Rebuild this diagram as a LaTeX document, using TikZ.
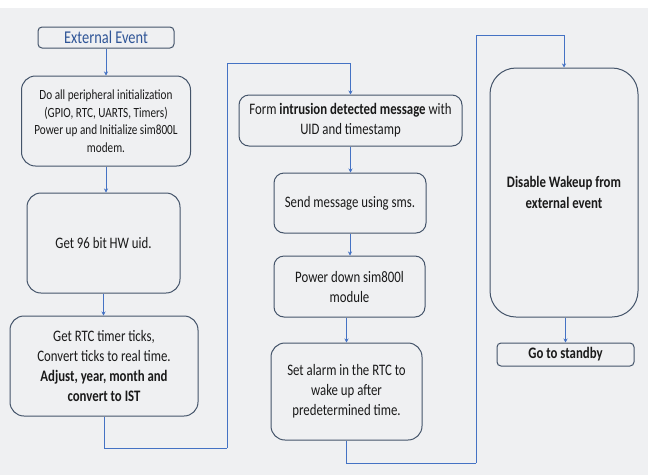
\documentclass[tikz,border=0pt]{standalone}
\usepackage{fontspec}
\setmainfont{Carlito}[FakeStretch=0.8]
\usetikzlibrary{arrows.meta}
\definecolor{bgc}{HTML}{EFF0F2}
\definecolor{linec}{HTML}{4472C4}
\definecolor{boxc}{HTML}{44546A}
\definecolor{txtc}{HTML}{1A1A1A}
\definecolor{titc}{HTML}{2F5597}
\tikzset{
  box/.style={draw=boxc, line width=1pt, rectangle, rounded corners=14pt, align=center,
    text=txtc, inner sep=2pt, font=\fontsize{16pt}{20pt}\selectfont},
  flat/.style={box, rounded corners=4pt},
  conn/.style={draw=linec, line width=0.9pt, -{Stealth[length=4pt,width=4pt]}},
  wire/.style={draw=linec, line width=0.9pt}
}
\begin{document}
\begin{tikzpicture}[x=1pt,y=-1pt]
\fill[white] (0,0) rectangle (648,475);
\fill[bgc] (0,8) rectangle (648,475);
\useasboundingbox (0,0) rectangle (648,475);

\node[flat, minimum width=136pt, minimum height=21pt, text=titc, font=\fontsize{18pt}{20pt}\selectfont] (ext) at (106,37.5) {External Event};
\node[box, minimum width=169pt, minimum height=90pt, font=\fontsize{14pt}{17.5pt}\selectfont] (b1) at (106,121) {Do all peripheral initialization\\(GPIO, RTC, UARTS, Timers)\\Power up and Initialize sim800L\\modem.};
\node[box, minimum width=153pt, minimum height=100pt] (b2) at (103.5,243) {Get 96 bit HW uid.};
\node[box, minimum width=188pt, minimum height=100pt] (b3) at (104,366) {Get RTC timer ticks,\\Convert ticks to real time.\\\textbf{Adjust, year, month and}\\\textbf{convert to IST}};

\node[box, rounded corners=10pt, minimum width=223pt, minimum height=51pt] (b4) at (350.5,120.5) {Form \textbf{intrusion detected message} with\\UID and timestamp};
\node[box, rounded corners=10pt, minimum width=152pt, minimum height=60pt] (b5) at (350,203) {Send message using sms.};
\node[box, rounded corners=10pt, minimum width=151pt, minimum height=61pt] (b6) at (349.5,286.5) {Power down sim800l\\module};
\node[box, minimum width=151pt, minimum height=97pt] (b7) at (346.5,391.5) {Set alarm in the RTC to\\wake up after\\predetermined time.};

\node[box, rounded corners=26pt, minimum width=148pt, minimum height=249pt, font=\bfseries\fontsize{16pt}{20.5pt}\selectfont] (dis) at (564,192.5) {Disable Wakeup from\\external event};
\node[flat, minimum width=137pt, minimum height=23pt, font=\bfseries\fontsize{16pt}{18pt}\selectfont] (sb) at (565.5,354.5) {Go to standby};

\coordinate (c1) at (227,448);
\coordinate (c2) at (227,63);
\coordinate (c3) at (476,463);
\coordinate (c4) at (476,35);

\draw[conn] (ext.south) -- (ext.south |- b1.north);
\draw[conn] (b1.south) -- (b1.south |- b2.north);
\draw[conn] (b2.south) -- (b2.south |- b3.north);
\draw[wire] (b3.south) |- (c1);
\draw[conn] (c1) -- (c2) -| (b4.north);
\draw[conn] (b4.south) -- (b4.south |- b5.north);
\draw[conn] (b5.south) -- (b5.south |- b6.north);
\draw[conn] (b6.south -| b7.north) -- (b7.north);
\draw[wire] (b7.south) |- (c3);
\draw[conn] (c3) -- (c4) -| (dis.north);
\draw[conn] (dis.south -| sb.north) -- (sb.north);
\end{tikzpicture}
\end{document}
